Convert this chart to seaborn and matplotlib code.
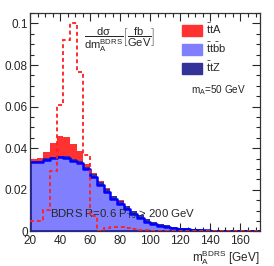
import numpy as np
import pandas as pd
import matplotlib
matplotlib.use("Agg")
import matplotlib.pyplot as plt
from matplotlib.patches import Patch
from matplotlib.ticker import MultipleLocator, FuncFormatter
import seaborn as sns

sns.set_style("ticks")
plt.rcParams['font.family'] = ['Liberation Sans', 'DejaVu Sans']
plt.rcParams['mathtext.fontset'] = 'custom'
plt.rcParams['mathtext.rm'] = 'Liberation Sans'
plt.rcParams['mathtext.it'] = 'Liberation Sans:italic'
plt.rcParams['mathtext.default'] = 'regular'

# 36 bins from 20 to 180 GeV
edges = list(np.linspace(20, 180, 37))
centers = [0.5 * (a + b) for a, b in zip(edges[:-1], edges[1:])]

# stacked components (per bin heights)
ttbb = [0.0332, 0.0335, 0.0345, 0.0352, 0.0357, 0.0353, 0.0341, 0.0329, 0.0300, 0.0262,
        0.0224, 0.0192, 0.0155, 0.0133, 0.0107, 0.0082, 0.0063, 0.0047, 0.0036, 0.0027,
        0.0021, 0.0016, 0.0013, 0.0010, 0.0008, 0.0006, 0.0005, 0.0004, 0.0003, 0.0003,
        0.0002, 0.0002, 0.0001, 0.0001, 0.0001, 0.0001]
ttZ = [0.0006, 0.0006, 0.0006, 0.0007, 0.0007, 0.0008, 0.0008, 0.0009, 0.0010, 0.0012,
       0.0014, 0.0013, 0.0014, 0.0015, 0.0016, 0.0016, 0.0015, 0.0013, 0.0011, 0.0009,
       0.0008, 0.0007, 0.0006, 0.0005, 0.0004, 0.0004, 0.0003, 0.0003, 0.0002, 0.0002,
       0.0002, 0.0001, 0.0001, 0.0001, 0.0001, 0.0001]
ttA = [0.0010, 0.0010, 0.0030, 0.0066, 0.0096, 0.0094, 0.0071, 0.0047, 0.0015, 0.0006,
       0.0003, 0.0002, 0.0002, 0.0002, 0.0001, 0.0001, 0.0001, 0.0001, 0.0001, 0.0001,
       0, 0, 0, 0, 0, 0, 0, 0, 0, 0, 0, 0, 0, 0, 0, 0]
# dashed ttA shape
ttA_shape = [0.005, 0.005, 0.0105, 0.029, 0.061, 0.092, 0.100, 0.0766, 0.037, 0.0075,
             0.0003, 0.0015, 0.0022, 0.0022, 0.0018, 0.0012, 0.0008, 0.0005, 0.0004, 0.0003,
             0.0002, 0.0002, 0.0002, 0.0001, 0.0001, 0.0001, 0.0001, 0.0001, 0.0001, 0.0001,
             0.0001, 0.0001, 0.0001, 0.0001, 0.0001, 0.0001]

c_red = '#ff3232'
c_light = '#8080ff'
c_navy = '#333399'

df = pd.DataFrame({'m': centers})
df['lvl1'] = np.array(ttbb)
df['lvl2'] = df['lvl1'] + np.array(ttZ)
df['lvl3'] = df['lvl2'] + np.array(ttA)

fig = plt.figure(figsize=(2.74, 2.66), dpi=100)
ax = fig.add_axes([0.1095, 0.1297, 0.8395, 0.8213])

sns.histplot(data=df, x='m', weights='lvl3', bins=edges, element='step', fill=True,
             color=c_red, alpha=1, linewidth=0, ax=ax)
sns.histplot(data=df, x='m', weights='lvl2', bins=edges, element='step', fill=True,
             color=c_navy, alpha=1, linewidth=0, ax=ax)
sns.histplot(data=df, x='m', weights='lvl1', bins=edges, element='step', fill=True,
             facecolor=c_light, edgecolor='#0000ff', alpha=1, linewidth=1.8, ax=ax)
ax.stairs(ttA_shape, edges, baseline=None, color='#ff2020', lw=1.3,
          linestyle=(0, (2.2, 1.6)), zorder=5)

ax.set_xlim(20, 173)
ax.set_ylim(0, 0.105)
ax.xaxis.set_major_locator(MultipleLocator(20))
ax.xaxis.set_minor_locator(MultipleLocator(5))
ax.yaxis.set_major_locator(MultipleLocator(0.02))
ax.yaxis.set_minor_locator(MultipleLocator(0.005))
ax.yaxis.set_major_formatter(FuncFormatter(lambda v, p: '%g' % round(v, 3)))
ax.tick_params(which='both', direction='in', top=True, right=True, labelsize=8.5)
ax.tick_params(axis='x', pad=2.5)
ax.tick_params(axis='y', pad=1.5)
ax.tick_params(which='major', length=6, width=0.8)
ax.tick_params(which='minor', length=3, width=0.8)
ax.set_ylabel('')
ax.set_xlabel('')
for s in ax.spines.values():
    s.set_linewidth(0.9)
    s.set_color('#333333')

ax.text(1.0, -0.075, r'm$_{A}^{BDRS}$ [GeV]', transform=ax.transAxes,
        ha='right', va='top', fontsize=8.5)
ax.text(0.39, 0.875, r'$\dfrac{d\sigma}{dm_{A}^{BDRS}}\left[\dfrac{fb}{GeV}\right]$',
        transform=ax.transAxes, ha='center', va='center', fontsize=8)
ax.text(0.70, 0.645, r'm$_{A}$=50 GeV', transform=ax.transAxes,
        ha='left', va='center', fontsize=7.2)
ax.text(0.085, 0.08, r'BDRS R=0.6 P$_{TJ}$ > 200 GeV', transform=ax.transAxes,
        ha='left', va='center', fontsize=8.2)

handles = [Patch(facecolor=c_red, edgecolor=c_red, label=r'$\bar{t}tA$'),
           Patch(facecolor=c_light, edgecolor=c_light, label=r'$\bar{t}t\bar{b}b$'),
           Patch(facecolor=c_navy, edgecolor=c_navy, label=r'$\bar{t}tZ$')]
ax.legend(handles=handles, loc='upper left', bbox_to_anchor=(0.64, 0.98),
          frameon=False, fontsize=8, handlelength=1.8, handleheight=1.1,
          labelspacing=0.45, handletextpad=0.4, borderaxespad=0)

fig.savefig('out.png', dpi=100)
